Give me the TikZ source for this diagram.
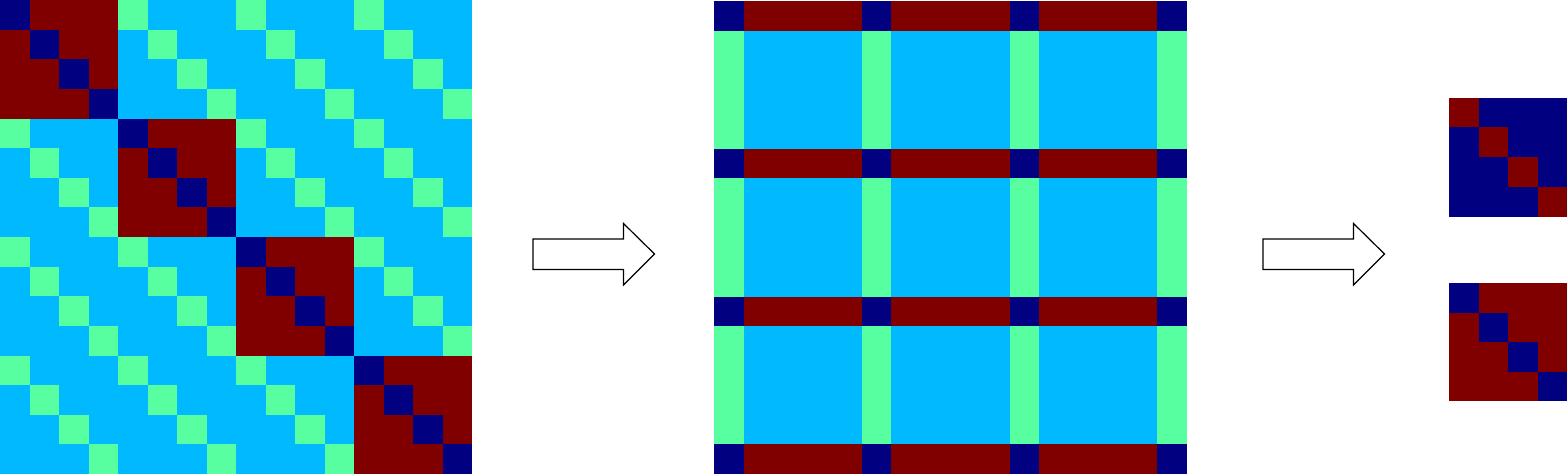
\documentclass[tikz,border=0pt]{standalone}
\definecolor{cnavy}{HTML}{000080}
\definecolor{cred}{HTML}{800000}
\definecolor{cgreen}{HTML}{57FFA0}
\definecolor{cblue}{HTML}{00B9FF}
\tikzset{
  blockarrow/.style={draw=black, fill=white, line width=1.2pt, line join=miter},
}
\begin{document}
\begin{tikzpicture}[x=1pt,y=-1pt]
\useasboundingbox (0,0) rectangle (1567,474);
% left 16x16 matrix
\def\lw{29.5}\def\lh{29.625}
\fill[cblue] (0,0) rectangle (472,474);
\foreach \b in {0,...,3}{
  \fill[cred] ({\b*4*\lw},{\b*4*\lh}) rectangle ({(\b+1)*4*\lw},{(\b+1)*4*\lh});
}
\foreach \bi in {0,...,3}{
  \foreach \bj in {0,...,3}{
    \foreach \k in {0,...,3}{
      \pgfmathtruncatemacro{\ci}{\bi*4+\k}
      \pgfmathtruncatemacro{\cj}{\bj*4+\k}
      \ifnum\bi=\bj\relax
        \fill[cnavy] ({\cj*\lw},{\ci*\lh}) rectangle ({(\cj+1)*\lw},{(\ci+1)*\lh});
      \else
        \fill[cgreen] ({\cj*\lw},{\ci*\lh}) rectangle ({(\cj+1)*\lw},{(\ci+1)*\lh});
      \fi
    }
  }
}
% top-left cell drawn again as two polygon halves
\fill[cnavy] (29.5,15) -- (0,15) -- (0,0) -- (29.5,0) -- cycle;
\fill[cnavy] (29.5,29.625) -- (0,29.625) -- (0,14.5) -- (29.5,14.5) -- cycle;
% middle matrix
\def\mx{714}\def\my{1}\def\mc{29.5625}
\fill[cblue] (714,1) rectangle (1187,474);
\foreach \k in {0,5,10,15}{
  \fill[cgreen] ({\mx+\k*\mc},\my) rectangle ({\mx+(\k+1)*\mc},474);
}
\foreach \k in {0,5,10,15}{
  \fill[cred] (\mx,{\my+\k*\mc}) rectangle (1187,{\my+(\k+1)*\mc});
}
\foreach \k in {0,5,10,15}{
  \foreach \l in {0,5,10,15}{
    \fill[cnavy] ({\mx+\l*\mc},{\my+\k*\mc}) rectangle ({\mx+(\l+1)*\mc},{\my+(\k+1)*\mc});
  }
}
% right small matrices
\fill[cnavy] (1449,97.5) rectangle (1567,216.5);
\fill[cred] (1449,283) rectangle (1567,401);
\foreach \i in {0,...,3}{
  \fill[cred] ({1449+\i*29.5},{97.5+\i*29.75}) rectangle ({1449+(\i+1)*29.5},{97.5+(\i+1)*29.75});
  \fill[cnavy] ({1449+\i*29.5},{283+\i*29.5}) rectangle ({1449+(\i+1)*29.5},{283+(\i+1)*29.5});
}
% block arrows
\draw[blockarrow] (533,239) -- (623.5,239) -- (623.5,223.5) -- (654.5,254) -- (623.5,285) -- (623.5,269.5) -- (533,269.5) -- cycle;
\draw[blockarrow] (1263,239) -- (1353.5,239) -- (1353.5,223.5) -- (1384.5,254) -- (1353.5,285) -- (1353.5,269.5) -- (1263,269.5) -- cycle;
\end{tikzpicture}
\end{document}
